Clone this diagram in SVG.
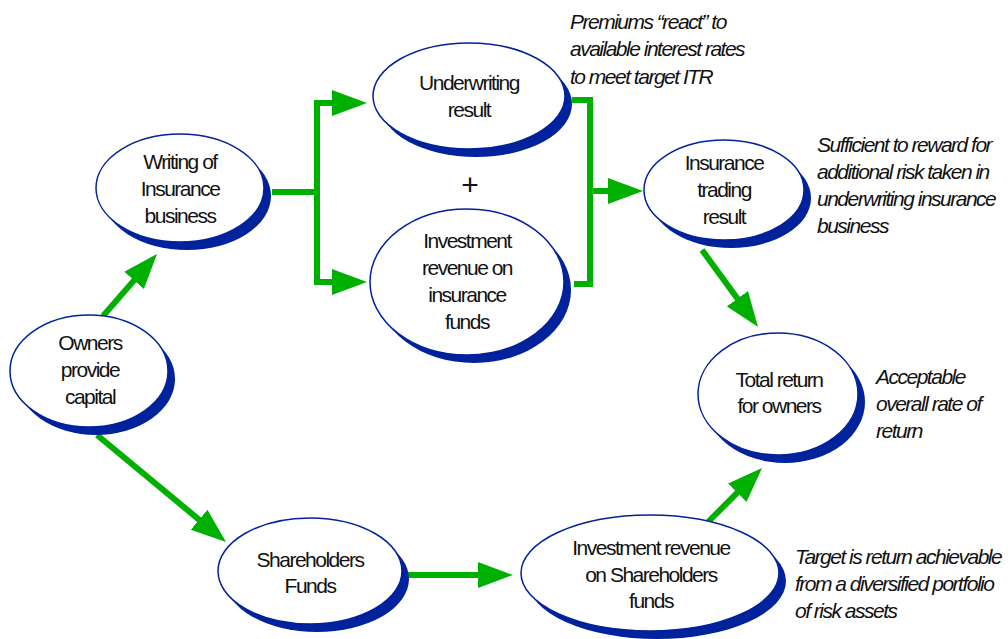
<svg xmlns="http://www.w3.org/2000/svg" width="1008" height="639" viewBox="0 0 1008 639">
  <style>
    .shadow { fill: #00229c; }
    .face { fill: #ffffff; stroke: #00229c; stroke-width: 1.5; }
    .label { font-family: "Liberation Sans", Arial, sans-serif; font-size: 21px; letter-spacing: -1.5px; fill: #111; text-anchor: middle; }
    .note { font-family: "Liberation Sans", Arial, sans-serif; font-size: 21px; font-style: italic; letter-spacing: -1.5px; fill: #111; }
    .flow { fill: none; stroke: #00b000; stroke-width: 6; stroke-linejoin: miter; marker-end: url(#head); }
    .plain { fill: none; stroke: #00b000; stroke-width: 6; }
  </style>
  <defs>
    <marker id="head" markerUnits="userSpaceOnUse" markerWidth="36" markerHeight="27" refX="3" refY="13" orient="auto">
      <path d="M0,0 L35,13 L0,26 z" fill="#00b000"/>
    </marker>
  </defs>
  <rect width="1008" height="639" fill="#ffffff"/>

  <!-- connectors -->
  <g id="connectors">
    <path class="flow" d="M103,316 L136,278.1"/>
    <path class="flow" d="M97,435 L201.4,521.6"/>
    <path class="plain" d="M272,192 H317"/>
    <path class="flow" d="M317,192 V103 H335"/>
    <path class="flow" d="M317,192 V282 H335"/>
    <path class="plain" d="M572,100 H590 V284 H574"/>
    <path class="flow" d="M590,191 H611"/>
    <path class="flow" d="M702,250 L739.2,301.1"/>
    <path class="flow" d="M408,575 H481"/>
    <path class="flow" d="M708,522 L739.4,490.6"/>
  </g>

  <!-- nodes -->
  <g id="owners">
    <ellipse class="shadow" cx="96" cy="379" rx="79" ry="56"/>
    <ellipse class="face" cx="89" cy="371" rx="79" ry="56"/>
    <text class="label" x="90" y="350">Owners</text>
    <text class="label" x="90" y="377">provide</text>
    <text class="label" x="90" y="404">capital</text>
  </g>

  <g id="writing">
    <ellipse class="shadow" cx="187" cy="196" rx="84" ry="54"/>
    <ellipse class="face" cx="180" cy="188" rx="84" ry="54"/>
    <text class="label" x="180" y="169">Writing of</text>
    <text class="label" x="180" y="196">Insurance</text>
    <text class="label" x="180" y="223">business</text>
  </g>

  <g id="underwriting">
    <ellipse class="shadow" cx="476" cy="104" rx="96" ry="53"/>
    <ellipse class="face" cx="469" cy="96" rx="96" ry="53"/>
    <text class="label" x="469" y="90">Underwriting</text>
    <text class="label" x="469" y="117">result</text>
  </g>

  <text class="label" x="470" y="195" style="font-size:30px;letter-spacing:0">+</text>

  <g id="investment-insurance">
    <ellipse class="shadow" cx="474" cy="290" rx="97" ry="73"/>
    <ellipse class="face" cx="467" cy="282" rx="97" ry="73"/>
    <text class="label" x="467" y="248">Investment</text>
    <text class="label" x="467" y="275">revenue on</text>
    <text class="label" x="467" y="302">insurance</text>
    <text class="label" x="467" y="329">funds</text>
  </g>

  <g id="trading">
    <ellipse class="shadow" cx="731" cy="198" rx="80" ry="50"/>
    <ellipse class="face" cx="724" cy="190" rx="80" ry="50"/>
    <text class="label" x="724" y="170">Insurance</text>
    <text class="label" x="724" y="197">trading</text>
    <text class="label" x="724" y="224">result</text>
  </g>

  <g id="total-return">
    <ellipse class="shadow" cx="785" cy="402" rx="80" ry="61"/>
    <ellipse class="face" cx="778" cy="394" rx="80" ry="61"/>
    <text class="label" x="779" y="387">Total return</text>
    <text class="label" x="779" y="413">for owners</text>
  </g>

  <g id="shareholders">
    <ellipse class="shadow" cx="317" cy="579" rx="92" ry="53"/>
    <ellipse class="face" cx="310" cy="571" rx="92" ry="53"/>
    <text class="label" x="310" y="567">Shareholders</text>
    <text class="label" x="310" y="593">Funds</text>
  </g>

  <g id="investment-shareholders">
    <ellipse class="shadow" cx="657" cy="581" rx="129" ry="58"/>
    <ellipse class="face" cx="650" cy="573" rx="129" ry="58"/>
    <text class="label" x="651" y="555">Investment revenue</text>
    <text class="label" x="651" y="582">on Shareholders</text>
    <text class="label" x="651" y="608">funds</text>
  </g>

  <!-- side notes -->
  <g id="notes">
    <text class="note" x="570" y="29">Premiums “react” to</text>
    <text class="note" x="570" y="56">available interest rates</text>
    <text class="note" x="570" y="84">to meet target ITR</text>

    <text class="note" x="817" y="152">Sufficient to reward  for</text>
    <text class="note" x="817" y="179">additional risk taken in</text>
    <text class="note" x="817" y="206">underwriting insurance</text>
    <text class="note" x="817" y="233">business</text>

    <text class="note" x="876" y="384">Acceptable</text>
    <text class="note" x="876" y="411">overall rate of</text>
    <text class="note" x="876" y="438">return</text>

    <text class="note" x="795" y="564">Target is return achievable</text>
    <text class="note" x="795" y="591">from a diversified portfolio</text>
    <text class="note" x="795" y="618">of risk assets</text>
  </g>
</svg>
